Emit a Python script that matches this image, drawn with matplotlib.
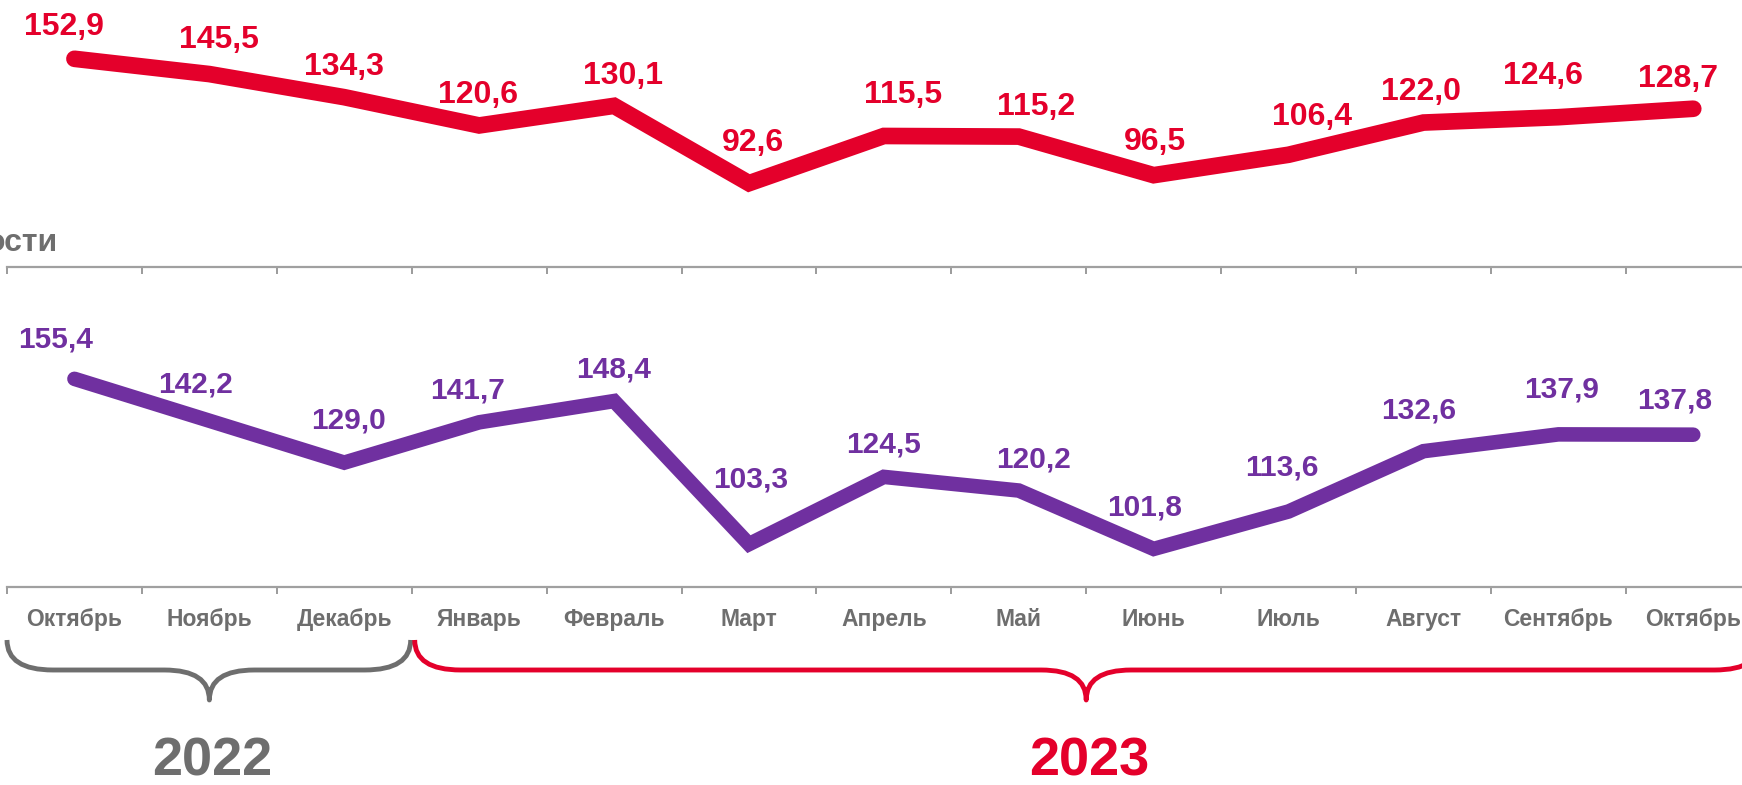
import matplotlib
matplotlib.use("Agg")
import matplotlib.pyplot as plt
from matplotlib.path import Path
from matplotlib.patches import PathPatch

# ---------------- data ----------------
months = ["Октябрь", "Ноябрь", "Декабрь", "Январь", "Февраль", "Март", "Апрель",
          "Май", "Июнь", "Июль", "Август", "Сентябрь", "Октябрь"]
red_values = [152.9, 145.5, 134.3, 120.6, 130.1, 92.6, 115.5, 115.2, 96.5, 106.4,
              122.0, 124.6, 128.7]
purple_values = [155.4, 142.2, 129.0, 141.7, 148.4, 103.3, 124.5, 120.2, 101.8,
                 113.6, 132.6, 137.9, 137.8]
year_labels = ["2022", "2023"]
year_spans = [(0, 2), (3, 12)]   # month index ranges covered by each year
section_title = "ости"

# ---------------- style ----------------
RED = "#E4002B"
PURPLE = "#7030A0"
GRAY = "#6E6E6E"
AXIS_GRAY = "#A0A0A0"
FONT = ["Liberation Sans", "DejaVu Sans"]

# label offsets in pixels (dx, dy) of the digit centre from the data point
red_offsets = [(-11, 35), (10, 38), (0, 34), (-1, 34), (9, 33), (4, 44),
               (19, 44), (17, 33), (1, 37), (23, 41), (-2, 34), (-15, 45),
               (-15, 33)]
purple_offsets = [(-19, 42), (-14, 39), (4, 45), (-12, 35), (0, 34), (2, 67),
                  (0, 35), (15, 34), (-9, 44), (-7, 47), (-5, 43), (3, 48),
                  (-19, 37)]

W, H = 1742, 785
fig = plt.figure(figsize=(W / 100, H / 100), dpi=100)
fig.patch.set_facecolor("white")

n = len(months)
left_px = 7
step_px = 134.9
axw = n * step_px / W
CAP = 0.716 * 100 / 72  # cap height in px per point of font size


def setup_axis(ax):
    ax.set_xlim(-0.5, n - 0.5)
    for s in ["top", "right", "left"]:
        ax.spines[s].set_visible(False)
    ax.spines["bottom"].set_color(AXIS_GRAY)
    ax.spines["bottom"].set_linewidth(1.6)
    ax.set_yticks([])
    ax.set_xticks([i - 0.5 for i in range(n + 1)])
    ax.set_xticks(range(n), minor=True)
    ax.tick_params(axis="x", which="major", length=5, width=1.2,
                   color="#8A8A8A", labelbottom=False)
    ax.tick_params(axis="x", which="minor", length=0)
    ax.patch.set_alpha(0)


def label_points(ax, values, offsets, color, size):
    for i, v in enumerate(values):
        dx, dy = offsets[i]
        ax.annotate(f"{v:.1f}".replace(".", ","), (i, v),
                    xytext=(dx, dy - CAP * size / 2), textcoords="offset pixels",
                    ha="center", va="baseline", color=color, fontsize=size,
                    fontweight="bold", family=FONT, annotation_clip=False,
                    zorder=5)


x = list(range(n))

# top axes (red)
ax1 = fig.add_axes([left_px / W, 1 - 267 / H, axw, 267 / H])
setup_axis(ax1)
ax1.set_ylim(52.0, 181.4)
ax1.plot(x, red_values, color=RED, lw=12, solid_capstyle="round",
         solid_joinstyle="miter", clip_on=False)
label_points(ax1, red_values, red_offsets, RED, 23)

# bottom axes (purple)
ax2 = fig.add_axes([left_px / W, 1 - 587 / H, axw, (587 - 290) / H])
setup_axis(ax2)
ax2.set_ylim(89.8, 183.4)
ax2.plot(x, purple_values, color=PURPLE, lw=10.5, solid_capstyle="round",
         solid_joinstyle="miter", clip_on=False)
label_points(ax2, purple_values, purple_offsets, PURPLE, 21.5)
ax2.set_xticklabels(months, minor=True)
ax2.tick_params(axis="x", which="minor", labelbottom=True, pad=15,
                labelsize=16.5, labelcolor=GRAY)
for lab in ax2.get_xticklabels(minor=True):
    lab.set_fontweight("bold")
    lab.set_family(FONT)

# overlay for braces / year labels in pixel space
ov = fig.add_axes([0, 0, 1, 1])
ov.set_xlim(0, W)
ov.set_ylim(0, H)
ov.axis("off")
ov.patch.set_alpha(0)


def px_x(xd):
    return ax2.transData.transform((xd, 100))[0]


def brace(x0, x1, xc, ytop, ymid, ytip, r, r2, color, lw):
    verts = [(x0, ytop), (x0, ymid), (x0 + r, ymid),
             (xc - r2, ymid), (xc, ymid), (xc, ytip),
             (xc, ymid), (xc + r2, ymid),
             (x1 - r, ymid), (x1, ymid), (x1, ytop)]
    codes = [Path.MOVETO, Path.CURVE3, Path.CURVE3,
             Path.LINETO, Path.CURVE3, Path.CURVE3,
             Path.CURVE3, Path.CURVE3,
             Path.LINETO, Path.CURVE3, Path.CURVE3]
    ov.add_patch(PathPatch(Path(verts, codes), fill=False, edgecolor=color,
                           lw=lw, capstyle="butt", joinstyle="round",
                           clip_on=False))


colors = [GRAY, RED]
for k, (a, b) in enumerate(year_spans):
    x0 = px_x(a - 0.5) + (0 if k == 0 else 3)
    x1 = px_x(b + 0.5) - (1 if k == 0 else 0)
    xc = px_x((a + b) / 2)
    brace(x0, x1, xc, H - 640, H - 670, H - 700, 46, 45, colors[k], 3.5)
    ov.text(xc + 3, 10, year_labels[k], ha="center", va="baseline",
            fontsize=39, fontweight="bold", color=colors[k], family=FONT)

ov.text(58, H - 243, section_title, ha="right", va="center", fontsize=23,
        fontweight="bold", color=GRAY, family=FONT)

fig.savefig("out.png", dpi=100, facecolor="white")
